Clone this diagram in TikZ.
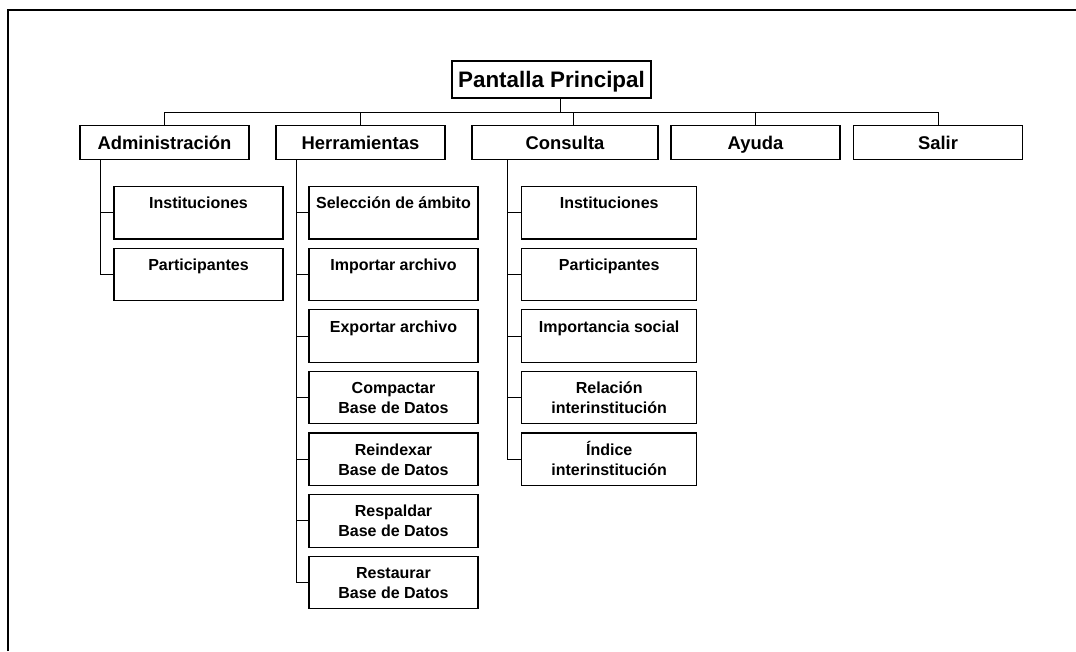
\documentclass[tikz,border=0pt]{standalone}
\usepackage{fontspec}
\setmainfont{Liberation Sans}
\newcommand\tstrut{\rule{0pt}{13.5pt}}
\begin{document}
\begin{tikzpicture}[x=0.75pt,y=-0.75pt,
  box/.style={draw, line width=0.9pt, inner sep=0pt, align=center},
  topbox/.style={box, minimum width=149.25pt, minimum height=27.75pt, text height=12pt, text depth=0pt, font=\bfseries\fontsize{16.8}{20}\selectfont},
  lvone/.style={box, minimum height=25.5pt, text height=9.9pt, text depth=0pt, font=\bfseries\fontsize{13.8}{16}\selectfont},
  lvtwo/.style={box, minimum height=39.4pt, font=\bfseries\fontsize{12}{15}\selectfont},
  conn/.style={line width=0.75pt},
  frame/.style={line width=1.6pt}]
\useasboundingbox (0,0) rectangle (1076,651);
% outer frame (cut off at right and bottom)
\draw[frame] (8.3,651) -- (8.3,10) -- (1076,10);

% root
\node[topbox] (pp) at (551.5,79.5) {Pantalla Principal};

% level one
\node[lvone, minimum width=126.75pt] (adm) at (164.5,142.5) {Administración};
\node[lvone, minimum width=126.75pt] (her) at (360.5,142.5) {Herramientas};
\node[lvone, minimum width=139.5pt]  (con) at (565,142.5) {Consulta};
\node[lvone, minimum width=126.75pt] (ayu) at (755.5,142.5) {Ayuda};
\node[lvone, minimum width=126.75pt] (sal) at (938,142.5) {Salir};

% level two: Administracion
\node[lvtwo, minimum width=126.75pt] (a1) at (198.5,212.75) {\tstrut Instituciones\\\strut};
\node[lvtwo, minimum width=126.75pt] (a2) at (198.5,274.4) {\tstrut Participantes\\\strut};

% level two: Herramientas
\node[lvtwo, minimum width=126.75pt] (h1) at (393.5,212.75) {\tstrut Selección de ámbito\\\strut};
\node[lvtwo, minimum width=126.75pt] (h2) at (393.5,274.4) {\tstrut Importar archivo\\\strut};
\node[lvtwo, minimum width=126.75pt] (h3) at (393.5,336.0) {\tstrut Exportar archivo\\\strut};
\node[lvtwo, minimum width=126.75pt] (h4) at (393.5,397.6) {\tstrut Compactar\\Base de Datos\strut};
\node[lvtwo, minimum width=126.75pt] (h5) at (393.5,459.3) {\tstrut Reindexar\\Base de Datos\strut};
\node[lvtwo, minimum width=126.75pt] (h6) at (393.5,520.9) {\tstrut Respaldar\\Base de Datos\strut};
\node[lvtwo, minimum width=126.75pt] (h7) at (393.5,582.5) {\tstrut Restaurar\\Base de Datos\strut};

% level two: Consulta
\node[lvtwo, minimum width=131.25pt] (c1) at (609.2,212.75) {\tstrut Instituciones\\\strut};
\node[lvtwo, minimum width=131.25pt] (c2) at (609.2,274.4) {\tstrut Participantes\\\strut};
\node[lvtwo, minimum width=131.25pt] (c3) at (609.2,336.0) {\tstrut Importancia social\\\strut};
\node[lvtwo, minimum width=131.25pt] (c4) at (609.2,397.6) {\tstrut Relación\\interinstitución\strut};
\node[lvtwo, minimum width=131.25pt] (c5) at (609.2,459.3) {\tstrut Índice\\interinstitución\strut};

% root to level one
\coordinate (busL) at (164.5,112);
\coordinate (busR) at (938,112);
\coordinate (ppstem) at (560,98);
\draw[conn] (ppstem) -- (ppstem |- busL);
\draw[conn] (busL) -- (busR);
\draw[conn] (adm.north) -- (adm.north |- busL);
\draw[conn] (her.north) -- (her.north |- busL);
\draw[conn] ([xshift=6pt]con.north) -- ([xshift=6pt]con.north |- busL);
\draw[conn] (ayu.north) -- (ayu.north |- busL);
\draw[conn] (sal.north) -- (sal.north |- busL);

% spines
\coordinate (admsp) at (100,159.5);
\coordinate (hersp) at (296,159.5);
\coordinate (consp) at (507.7,159.5);

\draw[conn] (admsp) |- (a2.west);
\draw[conn] (a1.west -| admsp) -- (a1.west);

\draw[conn] (hersp) |- (h7.west);
\foreach \n in {h1,h2,h3,h4,h5,h6}
  \draw[conn] (\n.west -| hersp) -- (\n.west);

\draw[conn] (consp) |- (c5.west);
\foreach \n in {c1,c2,c3,c4}
  \draw[conn] (\n.west -| consp) -- (\n.west);
\end{tikzpicture}
\end{document}
